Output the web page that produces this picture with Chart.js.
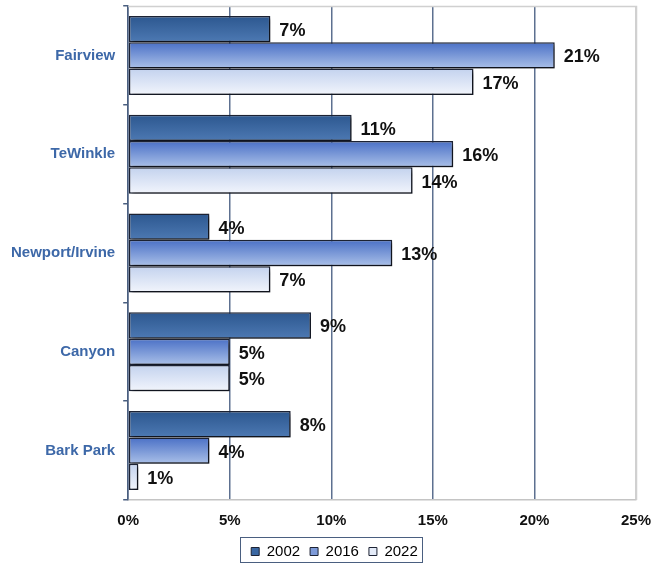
<!DOCTYPE html>
<html>
<head>
<meta charset="utf-8">
<script src="https://cdn.jsdelivr.net/npm/chart.js@4.4.1/dist/chart.umd.min.js"></script>
<style>
  html, body { margin: 0; padding: 0; background: #fff; }
  #wrap { width: 651px; height: 564px; position: relative; }
</style>
</head>
<body>
<div id="wrap"><canvas id="parkChart"></canvas></div>
<script>
// 공원 이용 비율 (%)
const parks = ['Fairview', 'TeWinkle', 'Newport/Irvine', 'Canyon', 'Bark Park'];
const years = ['2002', '2016', '2022'];
const values2002 = [7, 11, 4, 9, 8];
const values2016 = [21, 16, 13, 5, 4];
const values2022 = [17, 14, 7, 5, 0.5];
const xTicks = [0, 5, 10, 15, 20, 25];

const CAT_PCT = 0.8;
const FONT = '"Liberation Sans", Arial, sans-serif';
const LEGEND_PAD = 10;

// 막대 그라데이션 색
const gradStops = {
    '2002': ['#2c578f', '#4d79b3'],
    '2016': ['#4a70c6', '#aac0e8'],
    '2022': ['#c3d2ee', '#f2f5fc']
};
const legendColors = ['#3a67a2', '#7d9ad8', '#e4ebf8'];

function barGradient(year, dsIndex) {
    return function(context) {
        const chart = context.chart;
        const yScale = chart.scales.y;
        const fallback = gradStops[year][1];
        if (!chart.chartArea || !yScale || context.dataIndex === undefined) return fallback;
        const center = yScale.getPixelForValue(context.dataIndex);
        const catH = yScale.height / parks.length * CAT_PCT;
        const barH = catH / years.length;
        const top = center - catH / 2 + dsIndex * barH;
        if (!Number.isFinite(top) || !Number.isFinite(barH)) return fallback;
        const g = chart.ctx.createLinearGradient(0, top, 0, top + barH);
        g.addColorStop(0, gradStops[year][0]);
        g.addColorStop(1, gradStops[year][1]);
        return g;
    };
}

// 막대 그림자
const shadowPlugin = {
    id: 'barShadow',
    beforeDatasetDraw(chart) {
        const ctx = chart.ctx;
        ctx.save();
        ctx.shadowColor = 'rgba(0,0,0,0.45)';
        ctx.shadowBlur = 3;
        ctx.shadowOffsetX = 3;
        ctx.shadowOffsetY = 3;
    },
    afterDatasetDraw(chart) {
        chart.ctx.restore();
    }
};

// 값 라벨, 테두리, 범례 박스
const labelPlugin = {
    id: 'valueLabels',
    afterLayout(chart) {
        // 범례를 조금 오른쪽으로
        const lg = chart.legend;
        if (lg && lg.adjustHitBoxes) {
            lg.left += 15;
            lg.right += 15;
            lg.adjustHitBoxes();
        }
    },
    afterDatasetsDraw(chart) {
        const ctx = chart.ctx;
        ctx.save();
        ctx.font = 'bold 18px ' + FONT;
        ctx.fillStyle = '#111';
        ctx.textBaseline = 'middle';
        ctx.textAlign = 'left';
        chart.data.datasets.forEach((ds, i) => {
            chart.getDatasetMeta(i).data.forEach((bar, j) => {
                ctx.fillText(Math.round(ds.data[j]) + '%', bar.x + 9, bar.y + 2);
            });
        });
        ctx.restore();
    },
    afterDraw(chart) {
        const ctx = chart.ctx;
        const a = chart.chartArea;
        ctx.save();
        ctx.strokeStyle = '#d0d0d0';
        ctx.lineWidth = 1.5;
        ctx.beginPath();
        ctx.moveTo(a.left, a.top + 0.5);
        ctx.lineTo(a.right + 0.5, a.top + 0.5);
        ctx.lineTo(a.right + 0.5, a.bottom);
        ctx.stroke();
        // 범례 항목을 감싸는 테두리
        const lg = chart.legend;
        const lw = lg.lineWidths ? lg.lineWidths[0] : 0;
        if (lw) {
            const start = (lg.left + LEGEND_PAD + lg.right - lw) / 2;
            const left = Math.round(start - 11);
            const right = Math.round(start + lw - 6);
            ctx.strokeStyle = '#4a5f80';
            ctx.lineWidth = 1;
            ctx.strokeRect(left + 0.5, 537.5, right - left, 25);
        }
        ctx.restore();
    }
};

function makeDataset(year, data, i) {
    return {
        label: year,
        data: data,
        backgroundColor: barGradient(year, i),
        borderColor: '#1c2233',
        borderWidth: 1.5,
        borderSkipped: false,
        barPercentage: 1.0,
        categoryPercentage: CAT_PCT
    };
}

new Chart(document.getElementById('parkChart'), {
    type: 'bar',
    data: {
        labels: parks,
        datasets: [
            makeDataset('2002', values2002, 0),
            makeDataset('2016', values2016, 1),
            makeDataset('2022', values2022, 2)
        ]
    },
    options: {
        indexAxis: 'y',
        responsive: true,
        maintainAspectRatio: false,
        animation: false,
        layout: { padding: { top: 6, right: 15, left: 3, bottom: 0 } },
        plugins: {
            tooltip: { enabled: false },
            legend: {
                position: 'bottom',
                maxHeight: 30,
                labels: {
                    font: { family: FONT, size: 15 },
                    color: '#222',
                    boxWidth: 8,
                    boxHeight: 8,
                    padding: LEGEND_PAD,
                    generateLabels(chart) {
                        return years.map((y, i) => ({
                            text: y,
                            fillStyle: legendColors[i],
                            strokeStyle: '#1c2233',
                            lineWidth: 1,
                            datasetIndex: i
                        }));
                    }
                }
            }
        },
        scales: {
            x: {
                min: 0,
                max: 25,
                afterBuildTicks(axis) {
                    axis.ticks = xTicks.map(v => ({ value: v }));
                },
                afterFit(axis) {
                    axis.paddingLeft = 0;
                    axis.paddingRight = 0;
                    axis.height -= 8;
                },
                ticks: {
                    callback: v => v + '%',
                    font: { family: FONT, size: 15, weight: 'bold' },
                    color: '#111',
                    padding: 12
                },
                grid: {
                    color: ctx => (ctx.tick && ctx.tick.value === 25) ? '#d0d0d0' : (ctx.tick && ctx.tick.value === 0 ? '#4a5f80' : '#5d7090'),
                    lineWidth: 1.5,
                    drawTicks: false
                },
                border: { color: '#c4c4c4', width: 1.5 }
            },
            y: {
                afterFit(axis) {
                    axis.paddingTop = 0;
                    axis.paddingBottom = 0;
                },
                ticks: {
                    font: { family: FONT, size: 15, weight: 'bold' },
                    color: '#3d68a8',
                    padding: 8
                },
                grid: {
                    offset: true,
                    drawOnChartArea: false,
                    drawTicks: true,
                    tickLength: 5,
                    color: '#4a5f80',
                    lineWidth: 1.5
                },
                border: { color: '#4a5f80', width: 1.5 }
            }
        }
    },
    plugins: [shadowPlugin, labelPlugin]
});
</script>
</body>
</html>
